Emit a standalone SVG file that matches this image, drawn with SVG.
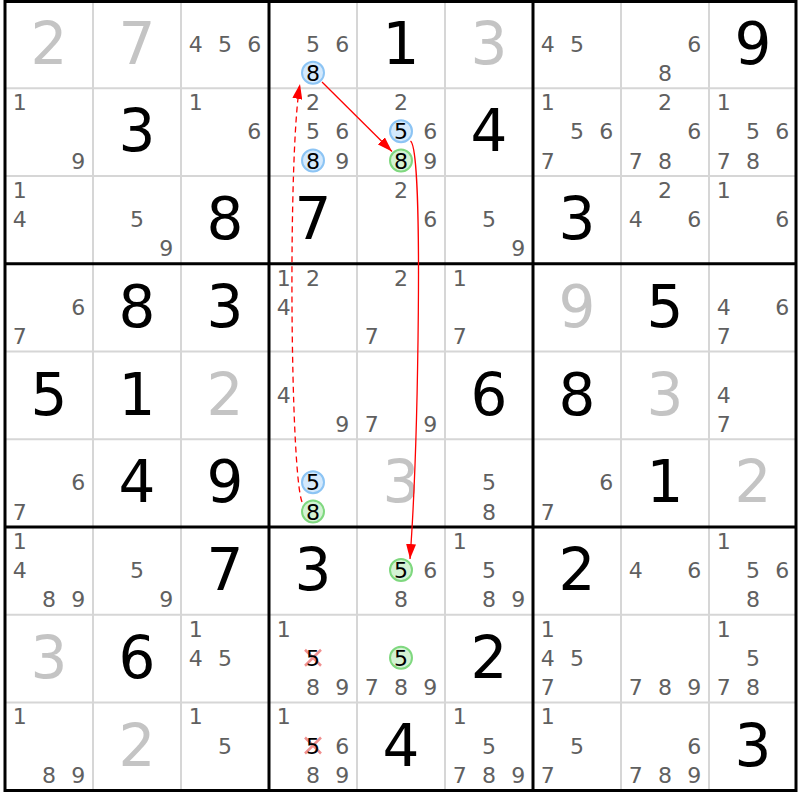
<svg xmlns="http://www.w3.org/2000/svg" width="800" height="800" viewBox="0 0 800 800">
<defs>
<style>
.c{font-family:"DejaVu Sans",Verdana,sans-serif;font-size:22px;fill:#606060;text-anchor:middle}
.h{fill:#000}
.b{font-family:"DejaVu Sans",Verdana,sans-serif;font-size:58px;text-anchor:middle;fill:#000}
.g{fill:#c4c4c4}
.cb{fill:#d4e9fc;stroke:#8cc4f4;stroke-width:2}
.cg{fill:#d4f2d4;stroke:#7fd87f;stroke-width:2}
.x{stroke:#f09090;stroke-width:2.5}
.thin{stroke:#d6d6d6;stroke-width:2}
.thick{stroke:#000;stroke-width:3;fill:none}
.arr{fill:none;stroke:#ff0000;stroke-width:1.3}
.dash{stroke-dasharray:6,4}
</style>
<marker id="ah" viewBox="0 0 15 10" refX="15" refY="5" markerWidth="15" markerHeight="10" markerUnits="userSpaceOnUse" orient="auto">
<path d="M0,0 L15,5 L0,10 z" fill="#ff0000"/>
</marker>
</defs>
<rect width="800" height="800" fill="#fff"/>
<g id="grid">
<path class="thin" d="M93,1.5V790.5M181,1.5V790.5M357,1.5V790.5M445,1.5V790.5M621,1.5V790.5M709,1.5V790.5M5,88.25H796M5,176H796M5,351.5H796M5,439.25H796M5,614.75H796M5,702.5H796"/>
<path class="thick" d="M269,1.5V790.5M533,1.5V790.5M5,263.75H796M5,527H796"/>
<rect class="thick" x="5" y="1.5" width="791" height="789"/>
</g>
<!-- Row 0 -->
<g id="r0c0" transform="translate(5,0.5)"><text class="b g" x="44" y="63">2</text></g>
<g id="r0c1" transform="translate(93,0.5)"><text class="b g" x="44" y="63">7</text></g>
<g id="r0c2" transform="translate(181,0.5)"><text class="c" x="14.7" y="51">4</text><text class="c" x="44" y="51">5</text><text class="c" x="73.3" y="51">6</text></g>
<g id="r0c3" transform="translate(269,0.5)"><text class="c" x="44" y="51">5</text><text class="c" x="73.3" y="51">6</text><circle class="cb" cx="44" cy="72.3" r="11"/><text class="c h" x="44" y="80.3">8</text></g>
<g id="r0c4" transform="translate(357,0.5)"><text class="b" x="44" y="63">1</text></g>
<g id="r0c5" transform="translate(445,0.5)"><text class="b g" x="44" y="63">3</text></g>
<g id="r0c6" transform="translate(533,0.5)"><text class="c" x="14.7" y="51">4</text><text class="c" x="44" y="51">5</text></g>
<g id="r0c7" transform="translate(621,0.5)"><text class="c" x="73.3" y="51">6</text><text class="c" x="44" y="80.3">8</text></g>
<g id="r0c8" transform="translate(709,0.5)"><text class="b" x="44" y="63">9</text></g>
<!-- Row 1 -->
<g id="r1c0" transform="translate(5,88.25)"><text class="c" x="14.7" y="21.8">1</text><text class="c" x="73.3" y="80.3">9</text></g>
<g id="r1c1" transform="translate(93,88.25)"><text class="b" x="44" y="63">3</text></g>
<g id="r1c2" transform="translate(181,88.25)"><text class="c" x="14.7" y="21.8">1</text><text class="c" x="73.3" y="51">6</text></g>
<g id="r1c3" transform="translate(269,88.25)"><text class="c" x="44" y="21.8">2</text><text class="c" x="44" y="51">5</text><text class="c" x="73.3" y="51">6</text><circle class="cb" cx="44" cy="72.3" r="11"/><text class="c h" x="44" y="80.3">8</text><text class="c" x="73.3" y="80.3">9</text></g>
<g id="r1c4" transform="translate(357,88.25)"><text class="c" x="44" y="21.8">2</text><circle class="cb" cx="44" cy="43" r="11"/><text class="c h" x="44" y="51">5</text><text class="c" x="73.3" y="51">6</text><circle class="cg" cx="44" cy="72.3" r="11"/><text class="c h" x="44" y="80.3">8</text><text class="c" x="73.3" y="80.3">9</text></g>
<g id="r1c5" transform="translate(445,88.25)"><text class="b" x="44" y="63">4</text></g>
<g id="r1c6" transform="translate(533,88.25)"><text class="c" x="14.7" y="21.8">1</text><text class="c" x="44" y="51">5</text><text class="c" x="73.3" y="51">6</text><text class="c" x="14.7" y="80.3">7</text></g>
<g id="r1c7" transform="translate(621,88.25)"><text class="c" x="44" y="21.8">2</text><text class="c" x="73.3" y="51">6</text><text class="c" x="14.7" y="80.3">7</text><text class="c" x="44" y="80.3">8</text></g>
<g id="r1c8" transform="translate(709,88.25)"><text class="c" x="14.7" y="21.8">1</text><text class="c" x="44" y="51">5</text><text class="c" x="73.3" y="51">6</text><text class="c" x="14.7" y="80.3">7</text><text class="c" x="44" y="80.3">8</text></g>
<!-- Row 2 -->
<g id="r2c0" transform="translate(5,176)"><text class="c" x="14.7" y="21.8">1</text><text class="c" x="14.7" y="51">4</text></g>
<g id="r2c1" transform="translate(93,176)"><text class="c" x="44" y="51">5</text><text class="c" x="73.3" y="80.3">9</text></g>
<g id="r2c2" transform="translate(181,176)"><text class="b" x="44" y="63">8</text></g>
<g id="r2c3" transform="translate(269,176)"><text class="b" x="44" y="63">7</text></g>
<g id="r2c4" transform="translate(357,176)"><text class="c" x="44" y="21.8">2</text><text class="c" x="73.3" y="51">6</text></g>
<g id="r2c5" transform="translate(445,176)"><text class="c" x="44" y="51">5</text><text class="c" x="73.3" y="80.3">9</text></g>
<g id="r2c6" transform="translate(533,176)"><text class="b" x="44" y="63">3</text></g>
<g id="r2c7" transform="translate(621,176)"><text class="c" x="44" y="21.8">2</text><text class="c" x="14.7" y="51">4</text><text class="c" x="73.3" y="51">6</text></g>
<g id="r2c8" transform="translate(709,176)"><text class="c" x="14.7" y="21.8">1</text><text class="c" x="73.3" y="51">6</text></g>
<!-- Row 3 -->
<g id="r3c0" transform="translate(5,263.75)"><text class="c" x="73.3" y="51">6</text><text class="c" x="14.7" y="80.3">7</text></g>
<g id="r3c1" transform="translate(93,263.75)"><text class="b" x="44" y="63">8</text></g>
<g id="r3c2" transform="translate(181,263.75)"><text class="b" x="44" y="63">3</text></g>
<g id="r3c3" transform="translate(269,263.75)"><text class="c" x="14.7" y="21.8">1</text><text class="c" x="44" y="21.8">2</text><text class="c" x="14.7" y="51">4</text></g>
<g id="r3c4" transform="translate(357,263.75)"><text class="c" x="44" y="21.8">2</text><text class="c" x="14.7" y="80.3">7</text></g>
<g id="r3c5" transform="translate(445,263.75)"><text class="c" x="14.7" y="21.8">1</text><text class="c" x="14.7" y="80.3">7</text></g>
<g id="r3c6" transform="translate(533,263.75)"><text class="b g" x="44" y="63">9</text></g>
<g id="r3c7" transform="translate(621,263.75)"><text class="b" x="44" y="63">5</text></g>
<g id="r3c8" transform="translate(709,263.75)"><text class="c" x="14.7" y="51">4</text><text class="c" x="73.3" y="51">6</text><text class="c" x="14.7" y="80.3">7</text></g>
<!-- Row 4 -->
<g id="r4c0" transform="translate(5,351.5)"><text class="b" x="44" y="63">5</text></g>
<g id="r4c1" transform="translate(93,351.5)"><text class="b" x="44" y="63">1</text></g>
<g id="r4c2" transform="translate(181,351.5)"><text class="b g" x="44" y="63">2</text></g>
<g id="r4c3" transform="translate(269,351.5)"><text class="c" x="14.7" y="51">4</text><text class="c" x="73.3" y="80.3">9</text></g>
<g id="r4c4" transform="translate(357,351.5)"><text class="c" x="14.7" y="80.3">7</text><text class="c" x="73.3" y="80.3">9</text></g>
<g id="r4c5" transform="translate(445,351.5)"><text class="b" x="44" y="63">6</text></g>
<g id="r4c6" transform="translate(533,351.5)"><text class="b" x="44" y="63">8</text></g>
<g id="r4c7" transform="translate(621,351.5)"><text class="b g" x="44" y="63">3</text></g>
<g id="r4c8" transform="translate(709,351.5)"><text class="c" x="14.7" y="51">4</text><text class="c" x="14.7" y="80.3">7</text></g>
<!-- Row 5 -->
<g id="r5c0" transform="translate(5,439.25)"><text class="c" x="73.3" y="51">6</text><text class="c" x="14.7" y="80.3">7</text></g>
<g id="r5c1" transform="translate(93,439.25)"><text class="b" x="44" y="63">4</text></g>
<g id="r5c2" transform="translate(181,439.25)"><text class="b" x="44" y="63">9</text></g>
<g id="r5c3" transform="translate(269,439.25)"><circle class="cb" cx="44" cy="43" r="11"/><text class="c h" x="44" y="51">5</text><circle class="cg" cx="44" cy="72.3" r="11"/><text class="c h" x="44" y="80.3">8</text></g>
<g id="r5c4" transform="translate(357,439.25)"><text class="b g" x="44" y="63">3</text></g>
<g id="r5c5" transform="translate(445,439.25)"><text class="c" x="44" y="51">5</text><text class="c" x="44" y="80.3">8</text></g>
<g id="r5c6" transform="translate(533,439.25)"><text class="c" x="73.3" y="51">6</text><text class="c" x="14.7" y="80.3">7</text></g>
<g id="r5c7" transform="translate(621,439.25)"><text class="b" x="44" y="63">1</text></g>
<g id="r5c8" transform="translate(709,439.25)"><text class="b g" x="44" y="63">2</text></g>
<!-- Row 6 -->
<g id="r6c0" transform="translate(5,527)"><text class="c" x="14.7" y="21.8">1</text><text class="c" x="14.7" y="51">4</text><text class="c" x="44" y="80.3">8</text><text class="c" x="73.3" y="80.3">9</text></g>
<g id="r6c1" transform="translate(93,527)"><text class="c" x="44" y="51">5</text><text class="c" x="73.3" y="80.3">9</text></g>
<g id="r6c2" transform="translate(181,527)"><text class="b" x="44" y="63">7</text></g>
<g id="r6c3" transform="translate(269,527)"><text class="b" x="44" y="63">3</text></g>
<g id="r6c4" transform="translate(357,527)"><circle class="cg" cx="44" cy="43" r="11"/><text class="c h" x="44" y="51">5</text><text class="c" x="73.3" y="51">6</text><text class="c" x="44" y="80.3">8</text></g>
<g id="r6c5" transform="translate(445,527)"><text class="c" x="14.7" y="21.8">1</text><text class="c" x="44" y="51">5</text><text class="c" x="44" y="80.3">8</text><text class="c" x="73.3" y="80.3">9</text></g>
<g id="r6c6" transform="translate(533,527)"><text class="b" x="44" y="63">2</text></g>
<g id="r6c7" transform="translate(621,527)"><text class="c" x="14.7" y="51">4</text><text class="c" x="73.3" y="51">6</text></g>
<g id="r6c8" transform="translate(709,527)"><text class="c" x="14.7" y="21.8">1</text><text class="c" x="44" y="51">5</text><text class="c" x="73.3" y="51">6</text><text class="c" x="44" y="80.3">8</text></g>
<!-- Row 7 -->
<g id="r7c0" transform="translate(5,614.75)"><text class="b g" x="44" y="63">3</text></g>
<g id="r7c1" transform="translate(93,614.75)"><text class="b" x="44" y="63">6</text></g>
<g id="r7c2" transform="translate(181,614.75)"><text class="c" x="14.7" y="21.8">1</text><text class="c" x="14.7" y="51">4</text><text class="c" x="44" y="51">5</text></g>
<g id="r7c3" transform="translate(269,614.75)"><text class="c" x="14.7" y="21.8">1</text><path class="x" d="M36,35L52,51M52,35L36,51"/><text class="c h" x="44" y="51">5</text><text class="c" x="44" y="80.3">8</text><text class="c" x="73.3" y="80.3">9</text></g>
<g id="r7c4" transform="translate(357,614.75)"><circle class="cg" cx="44" cy="43" r="11"/><text class="c h" x="44" y="51">5</text><text class="c" x="14.7" y="80.3">7</text><text class="c" x="44" y="80.3">8</text><text class="c" x="73.3" y="80.3">9</text></g>
<g id="r7c5" transform="translate(445,614.75)"><text class="b" x="44" y="63">2</text></g>
<g id="r7c6" transform="translate(533,614.75)"><text class="c" x="14.7" y="21.8">1</text><text class="c" x="14.7" y="51">4</text><text class="c" x="44" y="51">5</text><text class="c" x="14.7" y="80.3">7</text></g>
<g id="r7c7" transform="translate(621,614.75)"><text class="c" x="14.7" y="80.3">7</text><text class="c" x="44" y="80.3">8</text><text class="c" x="73.3" y="80.3">9</text></g>
<g id="r7c8" transform="translate(709,614.75)"><text class="c" x="14.7" y="21.8">1</text><text class="c" x="44" y="51">5</text><text class="c" x="14.7" y="80.3">7</text><text class="c" x="44" y="80.3">8</text></g>
<!-- Row 8 -->
<g id="r8c0" transform="translate(5,702.5)"><text class="c" x="14.7" y="21.8">1</text><text class="c" x="44" y="80.3">8</text><text class="c" x="73.3" y="80.3">9</text></g>
<g id="r8c1" transform="translate(93,702.5)"><text class="b g" x="44" y="63">2</text></g>
<g id="r8c2" transform="translate(181,702.5)"><text class="c" x="14.7" y="21.8">1</text><text class="c" x="44" y="51">5</text></g>
<g id="r8c3" transform="translate(269,702.5)"><text class="c" x="14.7" y="21.8">1</text><path class="x" d="M36,35L52,51M52,35L36,51"/><text class="c h" x="44" y="51">5</text><text class="c" x="73.3" y="51">6</text><text class="c" x="44" y="80.3">8</text><text class="c" x="73.3" y="80.3">9</text></g>
<g id="r8c4" transform="translate(357,702.5)"><text class="b" x="44" y="63">4</text></g>
<g id="r8c5" transform="translate(445,702.5)"><text class="c" x="14.7" y="21.8">1</text><text class="c" x="44" y="51">5</text><text class="c" x="14.7" y="80.3">7</text><text class="c" x="44" y="80.3">8</text><text class="c" x="73.3" y="80.3">9</text></g>
<g id="r8c6" transform="translate(533,702.5)"><text class="c" x="14.7" y="21.8">1</text><text class="c" x="44" y="51">5</text><text class="c" x="14.7" y="80.3">7</text></g>
<g id="r8c7" transform="translate(621,702.5)"><text class="c" x="73.3" y="51">6</text><text class="c" x="14.7" y="80.3">7</text><text class="c" x="44" y="80.3">8</text><text class="c" x="73.3" y="80.3">9</text></g>
<g id="r8c8" transform="translate(709,702.5)"><text class="b" x="44" y="63">3</text></g>
<g id="connectors">
<path class="arr" d="M322,82 L392,151.5" marker-end="url(#ah)"/>
<path class="arr" d="M410.5,141 C424,150 418,450 410,559" marker-end="url(#ah)"/>
<path class="arr dash" d="M302,502 C290,470 288,150 300,84" marker-end="url(#ah)"/>
</g>
</svg>
